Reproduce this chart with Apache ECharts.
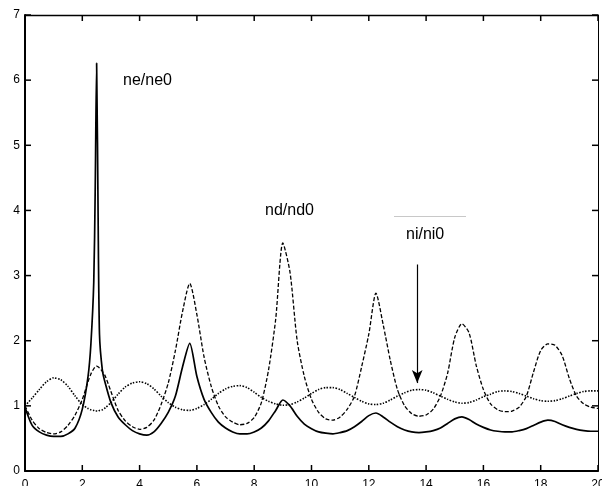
<!DOCTYPE html>
<html>
<head>
<meta charset="utf-8">
<script src="https://cdn.jsdelivr.net/npm/echarts@6/dist/echarts.min.js"></script>
<style>html,body{margin:0;padding:0;background:#fff}#c{width:602px;height:486px}</style>
</head>
<body>
<div id="c"></div>
<script>
var xs = [0,0.25,0.5,0.75,1,1.25,1.5,1.75,2,
  2.2,2.3,2.4,2.45,2.5,2.55,2.6,2.7,2.8,
  3,3.25,3.5,3.75,4,4.25,4.5,4.75,5,5.25,5.5,5.75,6,6.25,6.5,6.75,7,7.25,7.5,7.75,
  8,8.25,8.5,8.75,9,9.25,9.5,9.75,10,10.25,10.5,10.75,11,11.25,11.5,11.75,
  12,12.25,12.5,12.75,13,13.25,13.5,13.75,14,14.25,14.5,14.75,15,15.25,15.5,15.75,
  16,16.25,16.5,16.75,17,17.25,17.5,17.75,18,18.25,18.5,18.75,19,19.25,19.5,19.75,20];

var ne = [0.98,0.7,0.6,0.55,0.53,0.53,0.57,0.66,0.95,
  1.45,1.95,2.9,4.3,6.26,4.0,2.1,1.55,1.35,
  1.05,0.83,0.71,0.62,0.57,0.55,0.6,0.73,0.9,1.15,1.6,1.96,1.45,1.1,0.9,0.75,0.66,0.6,0.57,0.57,
  0.6,0.66,0.77,0.93,1.09,1.0,0.84,0.72,0.65,0.6,0.58,0.57,0.59,0.62,0.68,0.76,
  0.85,0.89,0.83,0.75,0.68,0.63,0.6,0.59,0.6,0.62,0.66,0.73,0.8,0.83,0.79,0.72,
  0.67,0.63,0.61,0.6,0.6,0.62,0.65,0.7,0.75,0.78,0.76,0.71,0.67,0.64,0.62,0.61,0.61];

var nd = [1.0,0.78,0.65,0.59,0.57,0.6,0.7,0.86,1.1,
  1.37,1.49,1.57,1.6,1.61,1.6,1.58,1.53,1.46,
  1.22,0.93,0.77,0.68,0.64,0.67,0.78,1.02,1.35,1.85,2.45,2.88,2.4,1.75,1.3,1.0,0.83,0.75,0.71,0.73,
  0.82,1.05,1.55,2.33,3.5,3.05,2.0,1.45,1.1,0.9,0.8,0.78,0.83,0.95,1.15,1.6,
  2.1,2.73,2.25,1.7,1.25,1.0,0.88,0.84,0.86,0.95,1.15,1.5,2.05,2.26,2.12,1.62,
  1.25,1.03,0.94,0.91,0.92,0.98,1.15,1.52,1.85,1.95,1.93,1.77,1.42,1.15,1.03,0.98,0.96];

var ni = [1.0,1.12,1.25,1.37,1.43,1.4,1.3,1.15,1.02,
  0.96,0.94,0.93,0.92,0.92,0.92,0.93,0.94,0.97,
  1.05,1.18,1.29,1.35,1.37,1.34,1.26,1.15,1.05,0.98,0.94,0.93,0.96,1.02,1.1,1.19,1.26,1.3,1.31,1.28,
  1.21,1.13,1.07,1.03,1.01,1.02,1.06,1.12,1.19,1.25,1.28,1.28,1.25,1.19,1.13,1.07,
  1.03,1.02,1.04,1.09,1.15,1.2,1.24,1.25,1.24,1.2,1.15,1.1,1.06,1.04,1.05,1.09,
  1.14,1.18,1.22,1.23,1.22,1.19,1.15,1.11,1.08,1.07,1.08,1.11,1.15,1.19,1.22,1.23,1.23];

var xTicks = [0,2,4,6,8,10,12,14,16,18,20];
var yTicks = [0,1,2,3,4,5,6,7];
var labels = ['ne/ne0','nd/nd0','ni/ni0'];
var arrowFrom = [13.69, 3.17];
var arrowTo = [13.69, 1.35];

function pairs(ys){ return xs.map(function(x,i){ return [x, ys[i]]; }); }

var X0 = xTicks[0], X1 = xTicks[xTicks.length-1], Y0 = yTicks[0], Y1 = yTicks[yTicks.length-1];
// tick definitions: [x, y, side]  side 0=bottom,1=top,2=left,3=right
var tickData = [];
xTicks.forEach(function(t){ tickData.push([t, Y0, 0]); tickData.push([t, Y1, 1]); });
yTicks.forEach(function(t){ tickData.push([X0, t, 2]); tickData.push([X1, t, 3]); });

var chart = echarts.init(document.getElementById('c'), null, {renderer:'canvas'});
var font = 'Liberation Sans, Arial, sans-serif';
var noTick = {show:false};
var L = 6;
chart.setOption({
  animation:false,
  backgroundColor:'#fff',
  grid:{left:25, right:4, top:15, bottom:15, containLabel:false, outerBoundsMode:'none'},
  xAxis:[
    {type:'value', min:X0, max:X1, interval:2, position:'bottom',
     axisLine:{show:true, onZero:false, lineStyle:{color:'#000', width:2}},
     axisTick:noTick, splitLine:{show:false},
     axisLabel:{show:true, color:'#000', fontSize:12, fontFamily:font, margin:8, hideOverlap:false}},
    {type:'value', min:X0, max:X1, interval:2, position:'top',
     axisLine:{show:true, onZero:false, lineStyle:{color:'#000', width:1.3}},
     axisTick:noTick, splitLine:{show:false}, axisLabel:{show:false}}
  ],
  yAxis:[
    {type:'value', min:Y0, max:Y1, interval:1, position:'left',
     axisLine:{show:true, onZero:false, lineStyle:{color:'#000', width:2}},
     axisTick:noTick, splitLine:{show:false},
     axisLabel:{show:true, color:'#000', fontSize:12, fontFamily:font, margin:5}},
    {type:'value', min:Y0, max:Y1, interval:1, position:'right',
     axisLine:{show:true, onZero:false, lineStyle:{color:'#000', width:1}},
     axisTick:noTick, splitLine:{show:false}, axisLabel:{show:false}}
  ],
  series:[
    {name:labels[0], type:'line', data:pairs(ne), showSymbol:false, smooth:0.25,
     lineStyle:{color:'#000', width:1.7}},
    {name:labels[1], type:'line', data:pairs(nd), showSymbol:false, smooth:0.25,
     lineStyle:{color:'#000', width:1.3, type:[4,2]}},
    {name:labels[2], type:'line', data:pairs(ni), showSymbol:false, smooth:0.25,
     lineStyle:{color:'#000', width:1.6, type:[1.5,1.5]},
     markLine:{silent:true, symbol:['none','arrow'], symbolSize:[8,13],
       label:{show:false}, lineStyle:{color:'#000', width:1.2, type:'solid'},
       data:[[{coord:arrowFrom},{coord:arrowTo}]]}},
    {name:'ticks', type:'custom', data:tickData, clip:false, silent:true, z:10,
     renderItem:function(params, api){
       var p = api.coord([api.value(0), api.value(1)]);
       var s = api.value(2);
       var dx = 0, dy = 0;
       if (s === 0) dy = -L; else if (s === 1) dy = L; else if (s === 2) dx = L; else dx = -L;
       return {type:'line', shape:{x1:p[0], y1:p[1], x2:p[0]+dx, y2:p[1]+dy},
               style:{stroke:'#000', lineWidth:1.5}};
     }}
  ],
  graphic:[
    {type:'text', left:123, top:73, style:{text:labels[0], fontSize:16, fontFamily:font, fill:'#000'}},
    {type:'text', left:265, top:203, style:{text:labels[1], fontSize:16, fontFamily:font, fill:'#000'}},
    {type:'text', left:406, top:227, style:{text:labels[2], fontSize:16, fontFamily:font, fill:'#000'}},
    {type:'line', shape:{x1:394, y1:216.5, x2:466, y2:216.5}, style:{stroke:'#c8c8c8', lineWidth:1}, silent:true}
  ]
});
</script>
</body>
</html>
